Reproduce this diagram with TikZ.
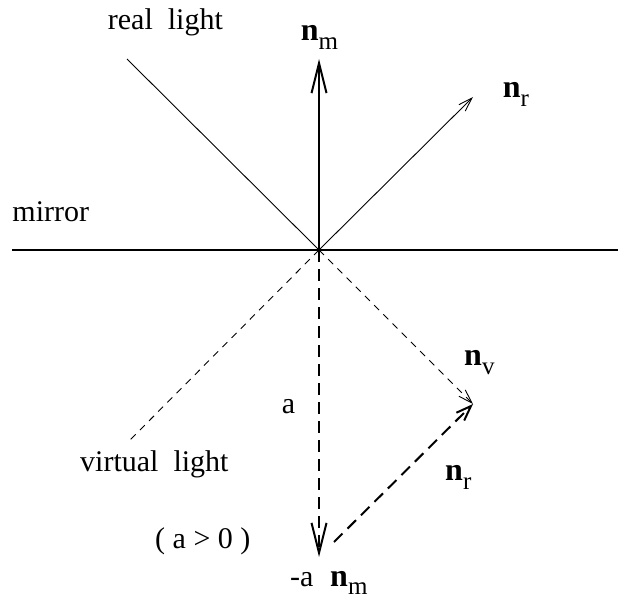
\documentclass[tikz,border=0pt]{standalone}
\usepackage{fontspec}
\setmainfont{Liberation Serif}
\usetikzlibrary{arrows.meta}
\newcommand{\vn}[1]{{\fontsize{32}{32}\selectfont\bfseries n}\raisebox{-9pt}{\fontsize{25}{25}\selectfont #1}}
\begin{document}
\begin{tikzpicture}[x=1pt,y=-1pt,
  thickln/.style={line width=2pt},
  thinln/.style={line width=0.9pt},
  thickdash/.style={line width=2pt, dash pattern=on 12pt off 7pt},
  thindash/.style={line width=0.9pt, dash pattern=on 7pt off 6pt},
  bigtip/.style={-{Straight Barb[length=30pt,width=15pt,line width=2pt]}},
  midtip/.style={-{Straight Barb[length=15pt,width=11pt,line width=2pt]}},
  smalltip/.style={-{Straight Barb[length=14pt,width=9pt,line width=0.9pt]}},
  lbl/.style={anchor=base west, inner sep=0pt, font=\fontsize{30}{32}\selectfont}]
\useasboundingbox (0,0) rectangle (618,599);
% points
\coordinate (O) at (319,250);
\coordinate (ML) at (12,250);
\coordinate (MR) at (618,250);
\coordinate (R) at (127,59);
\coordinate (V) at (127,443);
\coordinate (NM) at (319,59);
\coordinate (NR) at (473,97);
\coordinate (NV) at (473,404);
\coordinate (D) at (319,557);
\coordinate (S) at (334,542);
% lines
\draw[thickln] (ML) -- (MR);
\draw[thinln] (R) -- (O);
\draw[thindash] (O) -- (V);
\draw[thickln, bigtip] (O) -- (NM);
\draw[thinln, smalltip] (O) -- (NR);
\draw[thindash, smalltip] (O) -- (NV);
\draw[thickdash, bigtip] (O) -- (D);
\draw[thickdash, midtip] (S) -- (NV);
% labels
\node[lbl] (lreal) at (107.7,30) {real\hspace{0.5em}light};
\node[lbl] (lmirror) at (12.3,221.7) {mirror};
\node[lbl] (lvirt) at (80,471.7) {virtual\hspace{0.5em}light};
\node[lbl] (la) at (281.7,413) {a};
\node[lbl] (lcond) at (155,548.3) {( a \textgreater{} 0 )};
\node[lbl] (lma) at (290,586) {-a};
\node[lbl] (lnmb) at (330,586) {{\fontsize{32}{32}\selectfont\bfseries n}\raisebox{-8pt}{\fontsize{25}{25}\selectfont m}};
\node[lbl] (lnm) at (300.7,40.7) {\vn{m}};
\node[lbl] (lnr) at (502.7,97.3) {\vn{r}};
\node[lbl] (lnv) at (464,365) {\vn{v}};
\node[lbl] (lnr2) at (445,480) {\vn{r}};
\end{tikzpicture}
\end{document}
